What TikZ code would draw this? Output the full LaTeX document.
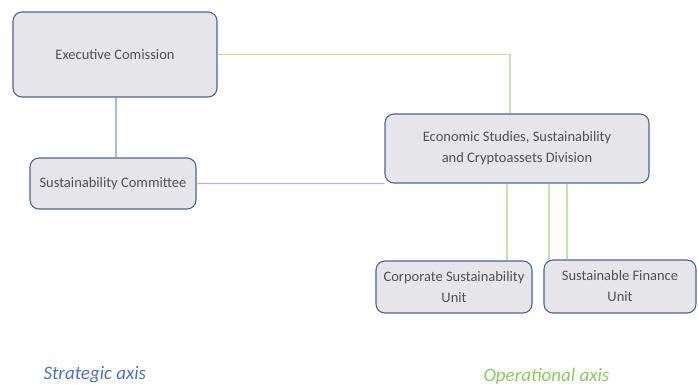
\documentclass[tikz,border=0pt]{standalone}
\usepackage{fontspec}
\setmainfont{Carlito}
\definecolor{boxfill}{HTML}{E6E6EA}
\definecolor{boxdraw}{HTML}{4A6598}
\definecolor{txtgray}{HTML}{505050}
\definecolor{lineblue}{HTML}{A9B9D9}
\definecolor{linegreen}{HTML}{C8E2AC}
\definecolor{axisblue}{HTML}{4A72C0}
\definecolor{axisgreen}{HTML}{8CC860}
\begin{document}
\begin{tikzpicture}[x=1pt,y=-1pt,
  orgbox/.style={draw=boxdraw,line width=1.1pt,fill=boxfill,rounded corners=9pt,
    text=txtgray,font=\fontsize{14.5}{21}\selectfont,align=center,inner sep=2pt},
  bline/.style={draw=lineblue,line width=1.3pt},
  gline/.style={draw=linegreen,line width=1.3pt},
  axislabel/.style={font=\fontsize{19}{22}\selectfont\itshape,anchor=west}]
\useasboundingbox (0,0) rectangle (698,385);
\node[orgbox,minimum width=204pt,minimum height=85pt] (exec) at (115,54.5) {Executive Comission};
\node[orgbox,minimum width=166pt,minimum height=51pt] (sc) at (113,183.5) {Sustainability Committee};
\node[orgbox,minimum width=264pt,minimum height=69pt] (econ) at (517,148.5) {Economic Studies, Sustainability\\and Cryptoassets Division};
\node[orgbox,minimum width=156pt,minimum height=52pt] (csu) at (454,287) {Corporate Sustainability\\Unit};
\node[orgbox,minimum width=152pt,minimum height=53pt] (sfu) at (620,286.5) {Sustainable Finance\\Unit};
\draw[bline] ([xshift=1pt]exec.south) -- ([xshift=1pt]exec.south |- sc.north);
\draw[gline] (exec.east) -| ([xshift=-7pt]econ.north);
\draw[bline] (sc.east) -- (econ.south west);
\draw[gline] ([xshift=-10pt]econ.south) -- ([xshift=-10pt]econ.south |- csu.north);
\draw[gline] ([xshift=32pt]econ.south) -- ([xshift=32pt]econ.south |- sfu.north);
\draw[gline] ([xshift=50pt]econ.south) -- ([xshift=50pt]econ.south |- sfu.north);
\node[axislabel,text=axisblue] (sa) at (40,375) {Strategic axis};
\node[axislabel,text=axisgreen] (oa) at (480,376) {Operational axis};
\end{tikzpicture}
\end{document}
